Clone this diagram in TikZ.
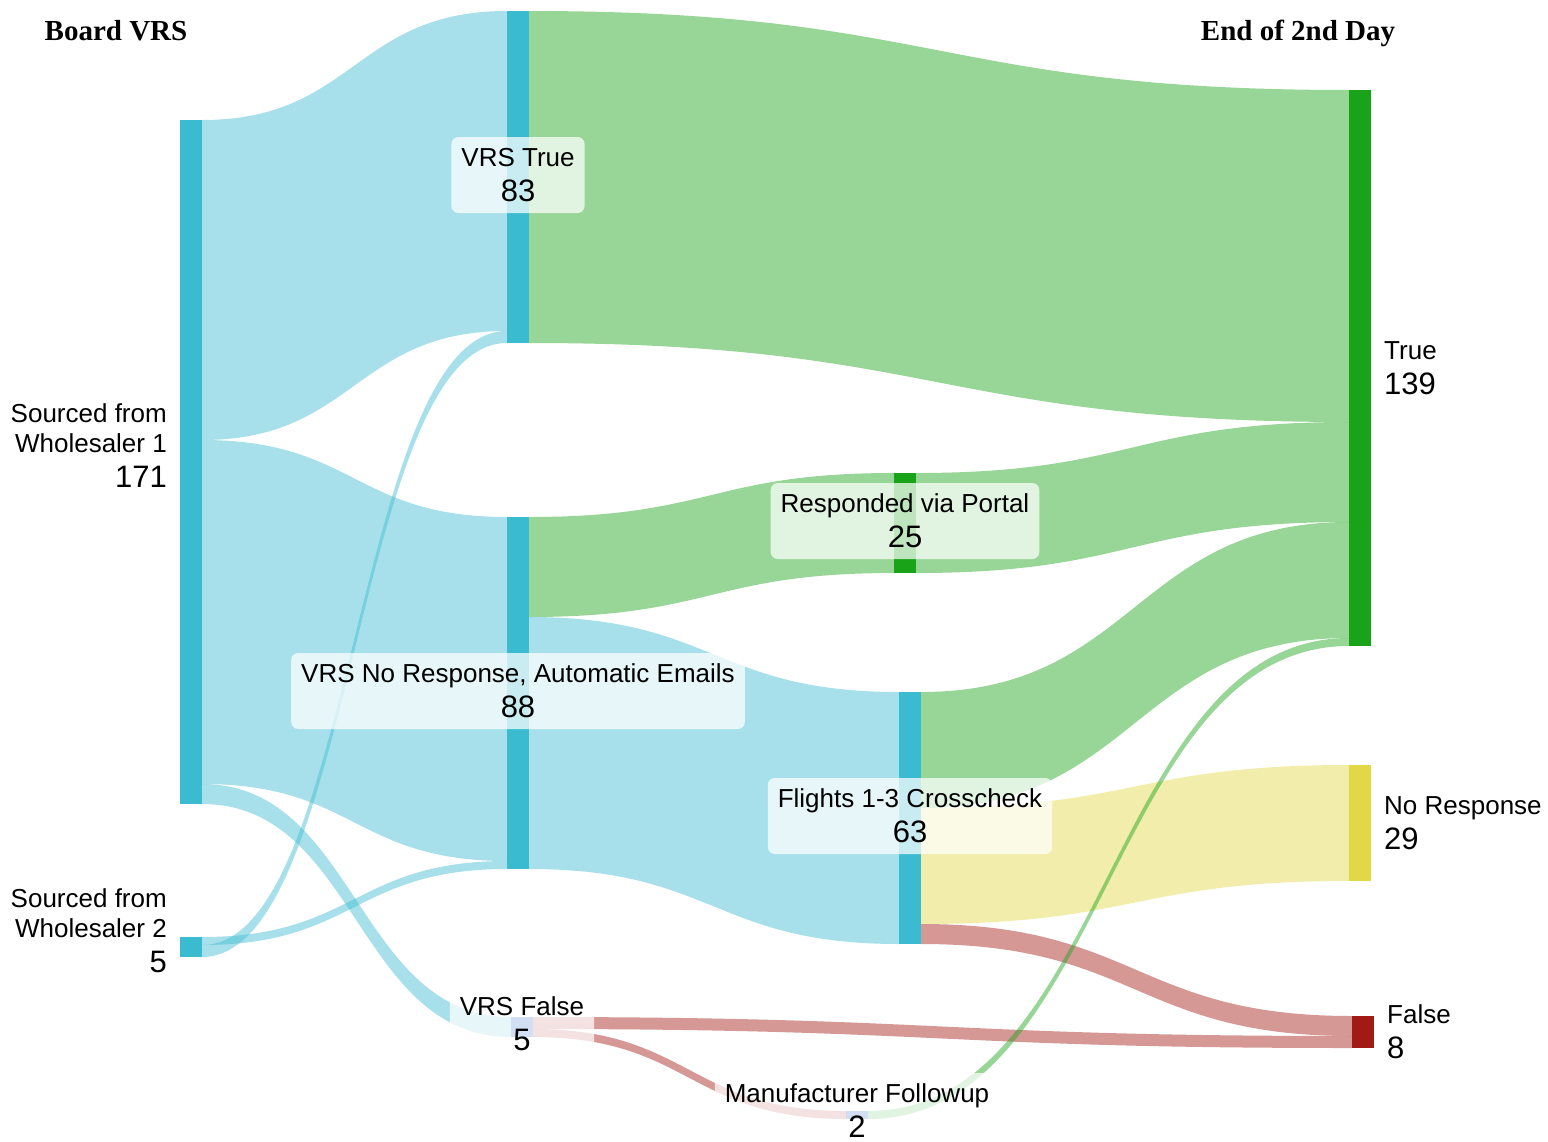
\documentclass[tikz,border=0pt]{standalone}
\usepackage{fontspec}
\setmainfont{Liberation Sans}
\newfontfamily\headfont{Liberation Serif}
\usetikzlibrary{calc,positioning}

\definecolor{vrsblue}{HTML}{3BBBD0}
\definecolor{truegreen}{HTML}{19A319}
\definecolor{noyellow}{HTML}{E2D845}
\definecolor{falsered}{HTML}{A11B14}
\definecolor{stepblue}{HTML}{5A8AD6}

\newcommand\labsize{\fontsize{26}{30}\selectfont}
\newcommand\numsize{\fontsize{31}{30}\selectfont}

% band between two bars: source, offset, target, offset, width (cases), colour
\newcommand\sankeyband[6]{%
  \path ($(#1.north east)+(0,#2*4)$) coordinate (b1)
        ($(#3.north west)+(0,#4*4)$) coordinate (b2)
        ($(b1)+(0,#5*4)$) coordinate (b3)
        ($(b2)+(0,#5*4)$) coordinate (b4)
        ($(b1)!0.5!(b2)$) coordinate (bm);
  \fill[link=#6] (b1) .. controls (b1 -| bm) and (b2 -| bm) .. (b2)
    -- (b4) .. controls (b4 -| bm) and (b3 -| bm) .. (b3) -- cycle;
}

\begin{document}
\begin{tikzpicture}[x=1pt, y=-1pt,
    bar/.style={rectangle, inner sep=0pt, outer sep=0pt, minimum width=22pt, anchor=north west, fill=#1},
    link/.style={fill=#1, fill opacity=0.45},
    lbl/.style={rectangle, rounded corners=7pt, fill=white, fill opacity=0.72, text opacity=1, align=center, inner xsep=10pt, inner ysep=0pt, minimum height=76pt, font=\labsize, yshift=2pt},
    side/.style={font=\labsize, inner sep=0pt},
    head/.style={font=\headfont\bfseries\fontsize{29}{34}\selectfont, anchor=base}
  ]
  \useasboundingbox (0,0) rectangle (1548,1141);

  \node[head] (boardhead) at (116,40) {Board VRS};
  \node[head] (dayhead) at (1298,40) {End of 2nd Day};

  % bars
  \node[bar=vrsblue, minimum height=684pt] (w1) at (180,120) {};
  \node[bar=vrsblue, minimum height=20pt] (w2) at (180,937) {};
  \node[bar=vrsblue, minimum height=332pt] (vt) at (507,11) {};
  \node[bar=vrsblue, minimum height=352pt] (vn) at (507,517) {};
  \node[bar=stepblue, minimum height=20pt] (vf) at (511,1017) {};
  \node[bar=truegreen, minimum height=100pt] (portal) at (894,473) {};
  \node[bar=vrsblue, minimum height=252pt] (fc) at (899,692) {};
  \node[bar=stepblue, minimum height=8pt] (mf) at (846,1111) {};
  \node[bar=truegreen, minimum height=556pt] (tr) at (1349,90) {};
  \node[bar=noyellow, minimum height=116pt] (nr) at (1349,765) {};
  \node[bar=falsered, minimum height=32pt] (fl) at (1352,1016) {};

  % flows
  \sankeyband{w1}{0}{vt}{0}{80}{vrsblue}
  \sankeyband{w1}{80}{vn}{0}{86}{vrsblue}
  \sankeyband{w1}{166}{vf}{0}{5}{vrsblue}
  \sankeyband{w2}{0}{vn}{86}{2}{vrsblue}
  \sankeyband{w2}{2}{vt}{80}{3}{vrsblue}
  \sankeyband{vt}{0}{tr}{0}{83}{truegreen}
  \sankeyband{vn}{0}{portal}{0}{25}{truegreen}
  \sankeyband{vn}{25}{fc}{0}{63}{vrsblue}
  \sankeyband{portal}{0}{tr}{83}{25}{truegreen}
  \sankeyband{fc}{0}{tr}{108}{29}{truegreen}
  \sankeyband{fc}{29}{nr}{0}{29}{noyellow}
  \sankeyband{fc}{58}{fl}{0}{5}{falsered}
  \sankeyband{vf}{0}{fl}{5}{3}{falsered}
  \sankeyband{vf}{3}{mf}{0}{2}{falsered}
  \sankeyband{mf}{0}{tr}{137}{2}{truegreen}

  % labels
  \node[lbl] (vtlab) at (vt) {VRS True\\[5pt]{\numsize 83}};
  \node[lbl] (vnlab) at (vn) {VRS No Response, Automatic Emails\\[5pt]{\numsize 88}};
  \node[lbl] (portallab) at (portal) {Responded via Portal\\[5pt]{\numsize 25}};
  \node[lbl] (fclab) at (fc) {Flights 1-3 Crosscheck\\[5pt]{\numsize 63}};
  \node[lbl, yshift=1pt] (vflab) at (vf) {VRS False\\[5pt]{\numsize 5}};
  \node[lbl, yshift=2pt] (mflab) at (mf) {Manufacturer Followup\\[5pt]{\numsize 2}};

  \node[side, align=right, left=13pt of w1, yshift=16pt] (w1lab) {Sourced from\\Wholesaler 1\\[5pt]{\numsize 171}};
  \node[side, align=right, left=13pt of w2, yshift=16pt] (w2lab) {Sourced from\\Wholesaler 2\\[5pt]{\numsize 5}};
  \node[side, align=left, right=13pt of tr] (trlab) {True\\[5pt]{\numsize 139}};
  \node[side, align=left, right=13pt of nr] (nrlab) {No Response\\[5pt]{\numsize 29}};
  \node[side, align=left, right=13pt of fl] (fllab) {False\\[5pt]{\numsize 8}};
\end{tikzpicture}
\end{document}
